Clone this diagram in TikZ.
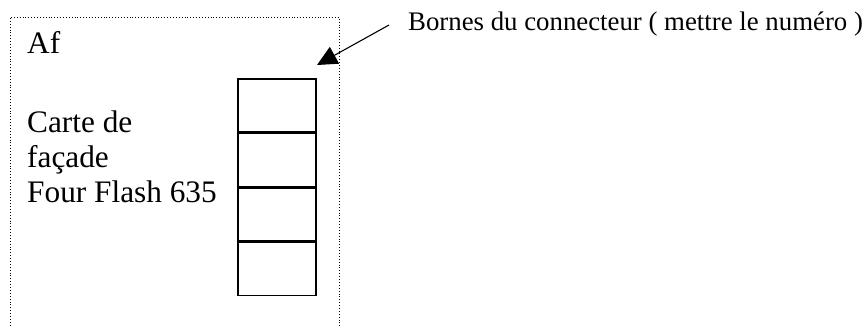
\documentclass[tikz,border=0pt]{standalone}
\usepackage{fontspec}
\setmainfont{Liberation Serif}
\usetikzlibrary{arrows.meta}
\tikzset{
  frame/.style={draw, dotted, line width=0.9bp},
  cell/.style={draw, line width=1.6bp, minimum width=78bp, minimum height=53bp, inner sep=0pt, anchor=north west},
  bigtext/.style={anchor=base west, inner sep=0pt, font=\fontsize{31.3bp}{36bp}\selectfont},
  labeltext/.style={anchor=base west, inner sep=0pt, font=\fontsize{26.8bp}{30bp}\selectfont},
  pointer/.style={line width=1.1bp, -{Triangle[length=20bp,width=19bp]}}
}
\begin{document}
\begin{tikzpicture}[x=1bp,y=-1bp]
\useasboundingbox (0,0) rectangle (867,326);
\draw[frame] (10,340) -- (10,17) -- (339,17) -- (339,340);
\node[bigtext] (af) at (27,53) {Af};
\node[bigtext] (t1) at (27,132) {Carte de};
\node[bigtext] (t2) at (27,167) {façade};
\node[bigtext] (t3) at (27,202) {Four Flash 635};
\node[cell] (c1) at (237,78) {};
\node[cell] (c2) at (c1.south west) {};
\node[cell] (c3) at (c2.south west) {};
\node[cell] (c4) at (c3.south west) {};
\node[labeltext] (lab) at (408,30) {Bornes du connecteur ( mettre le numéro )};
\coordinate (tail) at (389,25);
\coordinate (tip) at (317,65);
\draw[pointer] (tail) -- (tip);
\end{tikzpicture}
\end{document}
